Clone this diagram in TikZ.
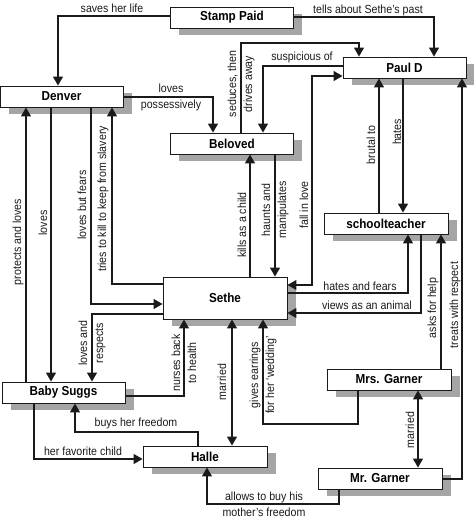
\documentclass[tikz,border=0pt]{standalone}
\usepackage{fontspec}
\setmainfont{Liberation Sans}[FakeStretch=0.9]
\usetikzlibrary{arrows.meta}
\definecolor{ink}{HTML}{1A1A1A}
\definecolor{boxshadow}{RGB}{165,165,165}
\tikzset{
  person/.style={draw=ink, line width=0.9pt, fill=white, minimum width=123pt,
    minimum height=21pt, inner sep=0pt,
    font=\fontsize{13}{15}\selectfont\bfseries},
  shadowbox/.style={fill=boxshadow},
  link/.style={draw=ink, line width=1.2pt, -{Triangle[length=9pt,width=10pt]}},
  link2/.style={draw=ink, line width=1.2pt, {Triangle[length=9pt,width=10pt]}-{Triangle[length=9pt,width=10pt]}},
  lab/.style={font=\fontsize{11.8}{16}\selectfont, inner sep=0pt, align=center, text=ink},
  vlab/.style={lab, rotate=90},
}
\begin{document}
\begin{tikzpicture}[x=1pt,y=-1pt]
\useasboundingbox (0,0) rectangle (474,523);
% shadows under the boxes
\fill[shadowbox] (179,14) rectangle (302,35);
\fill[shadowbox] (351.5,64) rectangle (474.5,85);
\fill[shadowbox] (8.5,93) rectangle (131.5,114);
\fill[shadowbox] (179,140) rectangle (302,161);
\fill[shadowbox] (332.5,220) rectangle (456.5,241);
\fill[shadowbox] (171.5,284) rectangle (295.5,326);
\fill[shadowbox] (10.5,389) rectangle (133.5,410);
\fill[shadowbox] (151.5,453) rectangle (275.5,474);
\fill[shadowbox] (335.5,376) rectangle (459.5,397);
\fill[shadowbox] (326.5,475) rectangle (450.5,496);
% people
\node[person] (stamp) at (232,17.5) {Stamp Paid};
\node[person] (pauld) at (404.5,67.5) {Paul D};
\node[person] (denver) at (61.5,96.5) {Denver};
\node[person] (beloved) at (232,143.5) {Beloved};
\node[person, minimum width=124pt] (school) at (386,223.5) {schoolteacher};
\node[person, minimum width=124pt, minimum height=42pt] (sethe) at (225,298) {Sethe};
\node[person] (baby) at (63.5,392.5) {Baby Suggs};
\node[person, minimum width=124pt] (halle) at (205,456.5) {Halle};
\node[person, minimum width=124pt] (mrs) at (389,379.5) {Mrs. Garner};
\node[person, minimum width=124pt] (mr) at (380,478.5) {Mr. Garner};
% connectors
\draw[link] (stamp.west |- 0,16) -| (denver.north -| 58,0);
\draw[link] (stamp.east |- 0,17) -| (pauld.north -| 434,0);
\draw[link] (denver.east |- 0,97) -| (beloved.north -| 213,0);
\draw[link] (beloved.north -| 241,0) -- (241,43) -| (pauld.north -| 359,0);
\draw[link] (pauld.west |- 0,66) -| (beloved.north -| 263,0);
\draw[link2] (sethe.east |- 0,285) -| (312,76) -- (pauld.west |- 0,76);
\draw[link] (sethe.north -| 250,0) -- (beloved.south -| 250,0);
\draw[link] (beloved.south -| 275,0) -- (sethe.north -| 275,0);
\draw[link] (denver.south -| 91,0) |- (sethe.west |- 0,304);
\draw[link] (sethe.west |- 0,284) -| (denver.south -| 112,0);
\draw[link] (baby.north -| 26,0) -- (denver.south -| 26,0);
\draw[link] (denver.south -| 51,0) -- (baby.north -| 51,0);
\draw[link] (sethe.west |- 0,314) -| (baby.north -| 92,0);
\draw[link] (baby.east |- 0,396) -| (sethe.south -| 184,0);
\draw[link2] (sethe.south -| 232,0) -- (halle.north -| 232,0);
\draw[link] (mrs.south -| 358,0) -- (358,424) -| (sethe.south -| 263,0);
\draw[link] (baby.south -| 34,0) |- (halle.west |- 0,459);
\draw[link] (halle.north -| 198,0) -- (198,432) -| (baby.south -| 75,0);
\draw[link] (mr.south -| 339,0) -- (339,504) -| (halle.south -| 207,0);
\draw[link] (sethe.east |- 0,293) -| (school.south -| 408,0);
\draw[link] (school.south -| 421,0) |- (sethe.east |- 0,313);
\draw[link] (pauld.south -| 403,0) -- (school.north -| 403,0);
\draw[link] (school.north -| 379,0) -- (pauld.south -| 379,0);
\draw[link] (mrs.north -| 441,0) -- (school.south -| 441,0);
\draw[link] (mr.east |- 0,479) -| (pauld.south -| 462,0);
\draw[link2] (mrs.south -| 418,0) -- (mr.north -| 418,0);
% labels
\node[lab] (t1) at (112,8) {saves her life};
\node[lab] (t2) at (368,10) {tells about Sethe's past};
\node[lab] (t3) at (171,97) {loves\\possessively};
\node[vlab] (t4) at (241,84) {seduces, then\\drives away};
\node[lab] (t5) at (302,57) {suspicious of};
\node[vlab] (t6) at (304,205) {fall in love};
\node[vlab] (t7) at (242,225) {kills as a child};
\node[vlab] (t8) at (275,210) {haunts and\\manipulates};
\node[vlab] (t9) at (82,205) {loves but fears};
\node[vlab] (t10) at (103,199) {tries to kill to keep from slavery};
\node[vlab] (t11) at (18,242) {protects and loves};
\node[vlab] (t12) at (43,223) {loves};
\node[vlab] (t13) at (92,343) {loves and\\respects};
\node[vlab] (t14) at (184,363) {nurses back\\to health};
\node[vlab] (t15) at (222,382) {married};
\node[vlab] (t16) at (263,375) {gives earrings\\for her `wedding'};
\node[lab] (t17) at (83,451) {her favorite child};
\node[lab] (t18) at (136,423) {buys her freedom};
\node[lab] (t19) at (264,504) {allows to buy his\\mother's freedom};
\node[lab] (t20) at (360,286) {hates and fears};
\node[lab] (t21) at (367,305) {views as an animal};
\node[vlab] (t22) at (397,132) {hates};
\node[vlab] (t23) at (371,145) {brutal to};
\node[vlab] (t24) at (433,308) {asks for help};
\node[vlab] (t25) at (455,305) {treats with respect};
\node[vlab] (t26) at (410,430) {married};
\end{tikzpicture}
\end{document}
